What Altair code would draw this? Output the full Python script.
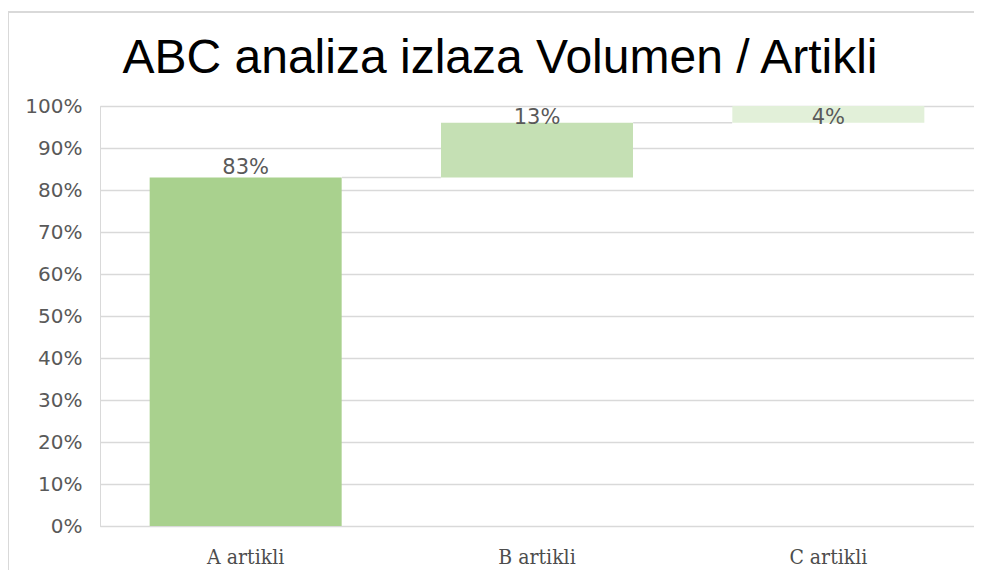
import altair as alt
import pandas as pd

categories = ["A artikli", "B artikli", "C artikli"]
values = [0.83, 0.13, 0.04]
colors = ["#a9d18e", "#c5e0b4", "#e2f0d9"]
title_text = "ABC analiza izlaza Volumen / Artikli"

ends = pd.Series(values).cumsum().round(4).tolist()
starts = [0.0] + ends[:-1]
df = pd.DataFrame({
    "cat": categories,
    "value": values,
    "start": starts,
    "end": ends,
    "color": colors,
})
df["label_y"] = df["end"].clip(upper=0.95)
df["label"] = [f"{round(v * 100)}%" for v in values]

conn = pd.DataFrame({
    "cat": categories[:-1],
    "next": categories[1:],
    "level": ends[:-1],
})

xscale = alt.Scale(domain=categories, paddingInner=0.34, paddingOuter=0.17)
yscale = alt.Scale(domain=[0, 1])

base = alt.Chart(df)

bars = base.mark_bar(size=192).encode(
    x=alt.X("cat:N", scale=xscale, sort=categories,
            axis=alt.Axis(title=None, labelAngle=0, ticks=False, domain=True,
                          domainColor="#d9d9d9", labelFont="DejaVu Serif Condensed",
                          labelFontSize=21, labelColor="#4d4d4d", labelPadding=20)),
    y=alt.Y("start:Q", scale=yscale,
            axis=alt.Axis(title=None, format=".0%", values=[i / 10 for i in range(11)],
                          ticks=False, domain=True, domainColor="#d9d9d9",
                          labelFont="DejaVu Sans", labelFontSize=20,
                          labelColor="#595959", labelPadding=18,
                          gridColor="#d9d9d9", gridWidth=1.3)),
    y2="end:Q",
    color=alt.Color("color:N", scale=None),
)

labels = base.mark_text(font="DejaVu Sans", fontSize=21, color="#595959",
                        baseline="alphabetic", dy=-3).encode(
    x=alt.X("cat:N", scale=xscale, sort=categories),
    y=alt.Y("label_y:Q", scale=yscale),
    text="label:N",
)

connectors = alt.Chart(conn).mark_rule(color="#d9d9d9", strokeWidth=1.5).encode(
    x=alt.X("cat:N", scale=xscale, sort=categories, bandPosition=1),
    x2=alt.X2("next:N", bandPosition=0),
    y=alt.Y("level:Q", scale=yscale),
)

border_left = alt.Chart(df).mark_rule(color="#d9d9d9", strokeWidth=1.5).encode(
    x=alt.value(-92), y=alt.value(-94), y2=alt.value(470)
)
border_top = alt.Chart(df).mark_rule(color="#d9d9d9", strokeWidth=1.5).encode(
    x=alt.value(-92), x2=alt.value(880), y=alt.value(-94)
)

title = alt.Chart(pd.DataFrame({"t": [title_text]})).mark_text(
    font="Liberation Sans", fontSize=48, color="#000000",
    align="center", baseline="alphabetic",
).encode(x=alt.value(400), y=alt.value(-33), text="t:N")

chart = alt.layer(border_left, border_top, title, bars, connectors, labels).properties(
    width=874,
    height=420,
    autosize=alt.AutoSizeParams(type="none"),
    padding={"left": 92, "top": 98, "right": 0, "bottom": 44},
).configure_view(stroke=None).configure(background="#ffffff")

chart.save("out.html", embed_options={"renderer": "svg", "actions": False})
